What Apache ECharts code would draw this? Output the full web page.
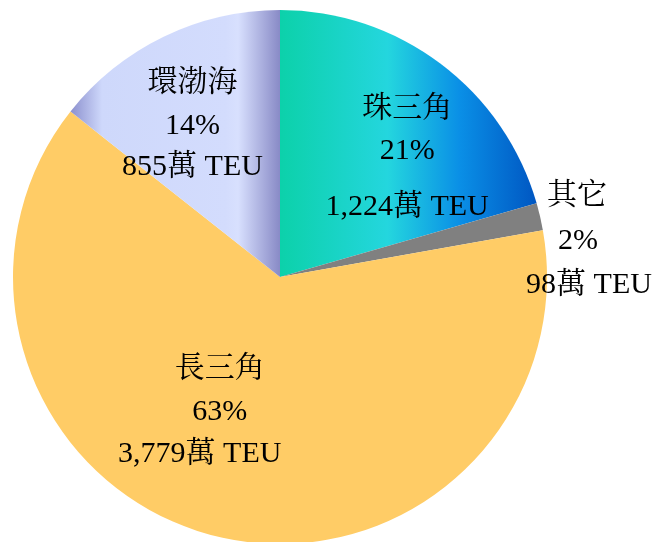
<!DOCTYPE html>
<html>
<head>
<meta charset="utf-8">
<style>
  html, body { margin: 0; padding: 0; background: #fff; }
  #chart { width: 656px; height: 542px; }
</style>
<script src="https://cdn.jsdelivr.net/npm/echarts@6/dist/echarts.min.js"></script>
</head>
<body>
<div id="chart"></div>
<script>
// 港口集装箱吞吐量 - 区域占比

// ==================== 数据 ====================
const regions = ['珠三角', '其它', '長三角', '環渤海'];
const teuValues = [1224, 98, 3779, 855]; // 萬 TEU
const unitText = '萬 TEU';

// ==================== 样式 ====================
const FONT = "'Liberation Serif', 'Noto Serif CJK TC', 'Noto Sans CJK TC', serif";
const FONT_SIZE = 30;

const colors = [
  {
    type: 'linear', x: 0, y: 0, x2: 1, y2: 0,
    colorStops: [
      { offset: 0, color: '#0CD1AA' },
      { offset: 0.42, color: '#24D6DE' },
      { offset: 0.7, color: '#0A8FE6' },
      { offset: 1, color: '#0056C2' }
    ]
  },
  '#808080',
  '#FFCC66',
  {
    type: 'linear', x: 0, y: 0, x2: 1, y2: 0,
    colorStops: [
      { offset: 0, color: '#8C90CE' },
      { offset: 0.15, color: '#CED8FB' },
      { offset: 0.74, color: '#D3DCFD' },
      { offset: 0.8, color: '#D8E0FE' },
      { offset: 1, color: '#888AC6' }
    ]
  }
];

// 每个标签的偏移、行高和行内缩进 [名称, 百分比, 数值]
const labelOffsets = [[45, -3], [176, -6], [-36, 2], [-28, -30]];
const lineHeights = [[42, 42, 70], [45, 45, 44], [43, 43, 41], [43, 43, 40]];
const linePads = [
  [[0, 0, 0, 0], [0, 0, 0, 0], [0, 0, 0, 0]],
  [[0, 24, 0, 0], [0, 22, 0, 0], [0, 0, 0, 0]],
  [[0, 0, 0, 18], [0, 0, 0, 18], [0, 22, 0, 0]],
  [[0, 0, 0, 0], [0, 0, 0, 0], [0, 0, 0, 0]]
];

function formatNumber(num) {
  return num.toLocaleString('en-US');
}

function textStyle(i, k) {
  return {
    fontSize: FONT_SIZE,
    fontFamily: FONT,
    color: '#000',
    lineHeight: lineHeights[i][k],
    padding: linePads[i][k]
  };
}

const seriesData = regions.map((name, i) => ({
  name,
  value: teuValues[i],
  itemStyle: { color: colors[i] },
  label: {
    offset: labelOffsets[i],
    rich: { n: textStyle(i, 0), p: textStyle(i, 1), v: textStyle(i, 2) }
  }
}));

const chart = echarts.init(document.getElementById('chart'), null, { renderer: 'canvas' });

chart.setOption({
  backgroundColor: '#fff',
  animation: false,
  series: [{
    type: 'pie',
    center: [280, 277],
    radius: [0, 267],
    startAngle: 90,
    clockwise: true,
    avoidLabelOverlap: false,
    itemStyle: { borderWidth: 0 },
    label: {
      show: true,
      position: 'inside',
      align: 'center',
      formatter: p => '{n|' + p.name + '}\n{p|' + Math.round(p.percent) + '%}\n{v|' + formatNumber(p.value) + unitText + '}'
    },
    labelLine: { show: false },
    emphasis: { disabled: true },
    data: seriesData
  }]
});
</script>
</body>
</html>
